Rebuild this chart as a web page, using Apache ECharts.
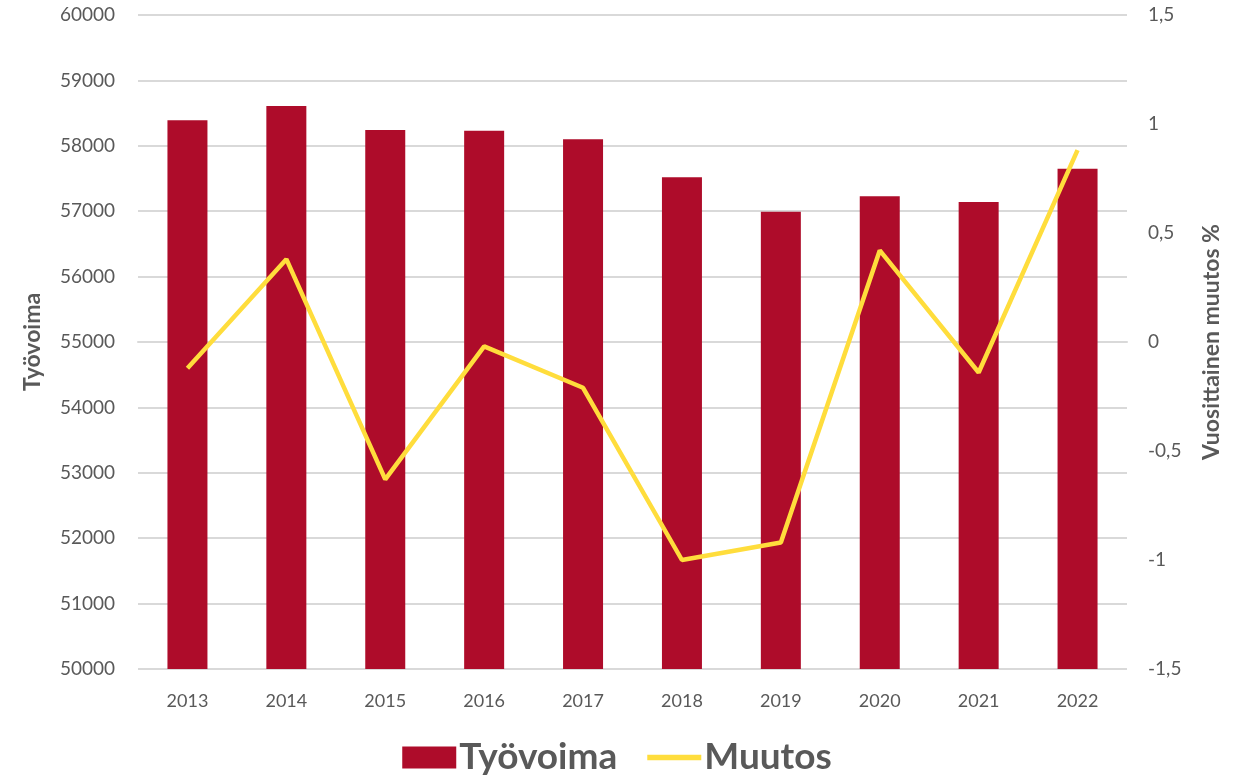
<!DOCTYPE html>
<html>
<head>
<meta charset="utf-8">
<script src="https://cdn.jsdelivr.net/npm/echarts@6/dist/echarts.min.js"></script>
<style>
html, body { margin: 0; padding: 0; background: #fff; }
#chart { width: 1234px; height: 781px; }
</style>
</head>
<body>
<div id="chart"></div>
<script>
var years = ['2013', '2014', '2015', '2016', '2017', '2018', '2019', '2020', '2021', '2022'];
var tyovoima = [58390, 58610, 58240, 58230, 58100, 57520, 56990, 57230, 57140, 57650];
var muutos = [-0.12, 0.38, -0.63, -0.02, -0.21, -1.0, -0.92, 0.42, -0.14, 0.88];

var font = 'Lato, "Open Sans", sans-serif';
var chart = echarts.init(document.getElementById('chart'));
chart.setOption({
    animation: false,
    textStyle: { fontFamily: font },
    grid: { left: 138, right: 107, top: 15, bottom: 112, containLabel: false },
    legend: {
        bottom: 0,
        left: 'center',
        itemGap: 30,
        itemWidth: 54,
        itemHeight: 22,
        textStyle: { fontSize: 37, fontWeight: 'bold', color: '#595959', fontFamily: font, padding: [0, 0, 0, -2] },
        data: [
            { name: 'Työvoima', icon: 'rect' },
            { name: 'Muutos', icon: 'path://M0,0 L10,0 L10,1 L0,1 Z', itemStyle: { color: '#ffdd3c' } }
        ]
    },
    xAxis: {
        type: 'category',
        data: years,
        axisTick: { show: false },
        axisLine: { lineStyle: { color: '#d9d9d9', width: 2 } },
        axisLabel: { color: '#595959', fontSize: 18, margin: 23 }
    },
    yAxis: [{
        type: 'value',
        min: 50000,
        max: 60000,
        interval: 1000,
        name: 'Työvoima',
        nameLocation: 'middle',
        nameGap: 94,
        nameTextStyle: { fontSize: 23, fontWeight: 'bold', color: '#595959' },
        axisLabel: { color: '#595959', fontSize: 19, margin: 23, formatter: function (v) { return String(v); } },
        splitLine: { lineStyle: { color: '#d9d9d9', width: 2 } },
        axisLine: { show: false }
    }, {
        type: 'value',
        min: -1.5,
        max: 1.5,
        interval: 0.5,
        name: 'Vuosittainen muutos %',
        nameLocation: 'middle',
        nameGap: 73,
        nameRotate: 90,
        nameTextStyle: { fontSize: 23, fontWeight: 'bold', color: '#595959' },
        axisLabel: {
            color: '#595959', fontSize: 19, margin: 21,
            formatter: function (v) { return String(v).replace('.', ','); }
        },
        splitLine: { show: false },
        axisLine: { show: false }
    }],
    series: [{
        name: 'Työvoima',
        type: 'bar',
        data: tyovoima,
        barWidth: 40,
        itemStyle: { color: '#ae0c2a' }
    }, {
        name: 'Muutos',
        type: 'line',
        yAxisIndex: 1,
        data: muutos,
        symbol: 'none',
        lineStyle: { color: '#ffdd3c', width: 4.5 },
        itemStyle: { color: '#ffdd3c' }
    }]
});
</script>
</body>
</html>
